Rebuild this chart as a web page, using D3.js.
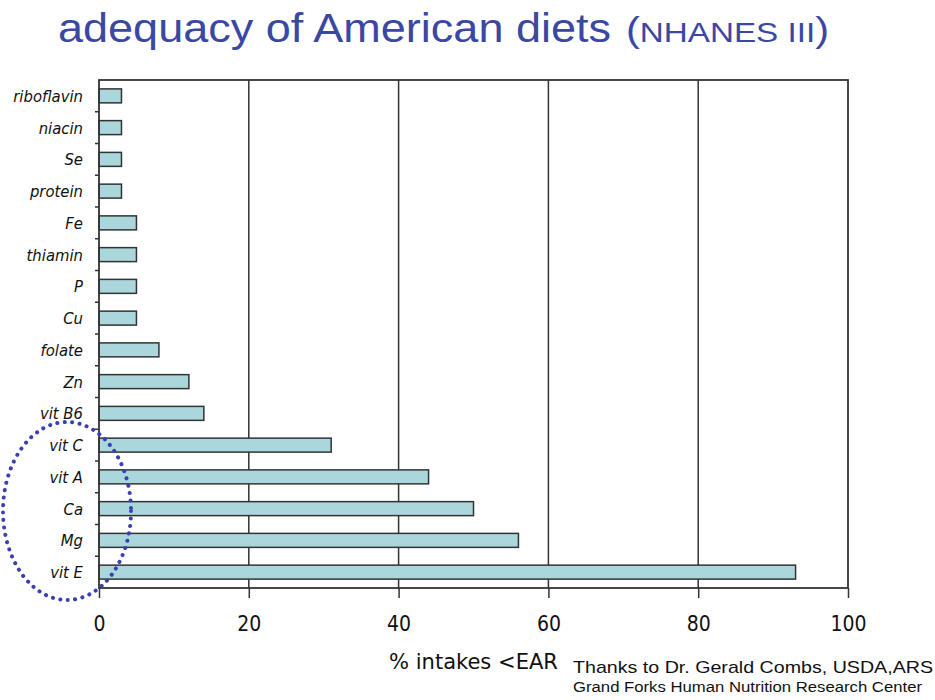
<!DOCTYPE html>
<html>
<head>
<meta charset="utf-8">
<script src="https://cdn.jsdelivr.net/npm/d3@7"></script>
<style>
  html, body { margin: 0; padding: 0; background: #fff; }
  svg { display: block; }
</style>
</head>
<body>
<svg id="chart" width="935" height="700"></svg>
<script>
// Nutrients, top to bottom
const nutrients = ["riboflavin", "niacin", "Se", "protein", "Fe", "thiamin", "P", "Cu",
                   "folate", "Zn", "vit B6", "vit C", "vit A", "Ca", "Mg", "vit E"];
// Percent of intakes below the Estimated Average Requirement
const pctBelowEAR = [3, 3, 3, 3, 5, 5, 5, 5, 8, 12, 14, 31, 44, 50, 56, 93];
const xTicks = [0, 20, 40, 60, 80, 100];

const data = nutrients.map((n, i) => ({ name: n, value: pctBelowEAR[i] }));

const svg = d3.select("#chart");
const margin = { left: 99, right: 87, top: 80, bottom: 112 };
const W = 935, H = 700;
const x0 = margin.left, x1 = W - margin.right;
const y0 = margin.top, y1 = H - margin.bottom;

const x = d3.scaleLinear().domain([0, 100]).range([x0, x1]);
const y = d3.scaleBand().domain(nutrients).range([y0, y1]).paddingInner(0.56).paddingOuter(0.28);

const ink = "#333";
const titleBlue = "#3a47a3";
const condensed = "DejaVu Sans Condensed, DejaVu Sans, sans-serif";

// Title
svg.append("text")
  .attr("x", 58).attr("y", 42)
  .attr("font-family", "Liberation Sans, Arial, sans-serif")
  .attr("font-size", 40).attr("fill", titleBlue)
  .attr("textLength", 553).attr("lengthAdjust", "spacingAndGlyphs")
  .text("adequacy of American diets");
const sub = svg.append("text")
  .attr("x", 626).attr("y", 42)
  .attr("font-family", "Liberation Sans, Arial, sans-serif")
  .attr("fill", titleBlue)
  .attr("textLength", 203).attr("lengthAdjust", "spacingAndGlyphs");
sub.append("tspan").attr("font-size", 35).text("(");
sub.append("tspan").attr("font-size", 28).text("NHANES III");
sub.append("tspan").attr("font-size", 35).text(")");

// Vertical gridlines
svg.append("g").selectAll("line")
  .data(xTicks.slice(1, -1))
  .join("line")
  .attr("x1", d => x(d)).attr("x2", d => x(d))
  .attr("y1", y0).attr("y2", y1)
  .attr("stroke", ink).attr("stroke-width", 1.5);

// Bars
svg.append("g").selectAll("rect")
  .data(data)
  .join("rect")
  .attr("x", x(0))
  .attr("y", d => y(d.name))
  .attr("width", d => x(d.value) - x(0))
  .attr("height", y.bandwidth())
  .attr("fill", "#a9d7dc")
  .attr("stroke", ink)
  .attr("stroke-width", 1.5);

// Plot frame
svg.append("rect")
  .attr("x", x0).attr("y", y0)
  .attr("width", x1 - x0).attr("height", y1 - y0)
  .attr("fill", "none").attr("stroke", ink).attr("stroke-width", 1.8);

// X axis
const xAxis = svg.append("g")
  .attr("transform", `translate(0,${y1})`)
  .call(d3.axisBottom(x).tickValues(xTicks).tickSize(10).tickPadding(18));
xAxis.select(".domain").remove();
xAxis.selectAll(".tick line").attr("stroke", ink).attr("stroke-width", 1.5);
xAxis.selectAll(".tick text")
  .attr("font-family", condensed)
  .attr("font-size", 21).attr("fill", "#111");

// Y axis: tick marks between categories, labels centred on each bar
const yAxis = svg.append("g");
const step = y.step();
yAxis.selectAll("line")
  .data(nutrients.slice(1))
  .join("line")
  .attr("x1", x0 - 4).attr("x2", x0)
  .attr("y1", (d, i) => y0 + (i + 1) * step)
  .attr("y2", (d, i) => y0 + (i + 1) * step)
  .attr("stroke", ink).attr("stroke-width", 1.5);
yAxis.selectAll("text")
  .data(data)
  .join("text")
  .attr("x", x0 - 16)
  .attr("y", d => y(d.name) + y.bandwidth() / 2)
  .attr("dy", "0.36em")
  .attr("text-anchor", "end")
  .attr("font-family", condensed)
  .attr("font-style", "italic")
  .attr("font-size", 16.5)
  .attr("fill", "#111")
  .text(d => d.name);

// Axis title
svg.append("text")
  .attr("x", 389).attr("y", 669)
  .attr("font-family", condensed)
  .attr("font-size", 22).attr("fill", "#111")
  .attr("textLength", 169).attr("lengthAdjust", "spacingAndGlyphs")
  .text("% intakes <EAR");

// Credits
svg.append("text")
  .attr("x", 573).attr("y", 673)
  .attr("font-family", "Liberation Sans, Arial, sans-serif")
  .attr("font-size", 17).attr("fill", "#111")
  .attr("textLength", 360).attr("lengthAdjust", "spacingAndGlyphs")
  .text("Thanks to Dr. Gerald Combs, USDA,ARS");
svg.append("text")
  .attr("x", 573).attr("y", 692)
  .attr("font-family", "Liberation Sans, Arial, sans-serif")
  .attr("font-size", 14).attr("fill", "#111")
  .attr("textLength", 349).attr("lengthAdjust", "spacingAndGlyphs")
  .text("Grand Forks Human Nutrition Research Center");

// Dotted ring around the four least adequate nutrients
svg.append("ellipse")
  .attr("cx", 67).attr("cy", 511)
  .attr("rx", 64).attr("ry", 89)
  .attr("fill", "none")
  .attr("stroke", "#3b3fb0")
  .attr("stroke-width", 4)
  .attr("stroke-linecap", "round")
  .attr("stroke-dasharray", "0.1 7.4");
</script>
</body>
</html>
